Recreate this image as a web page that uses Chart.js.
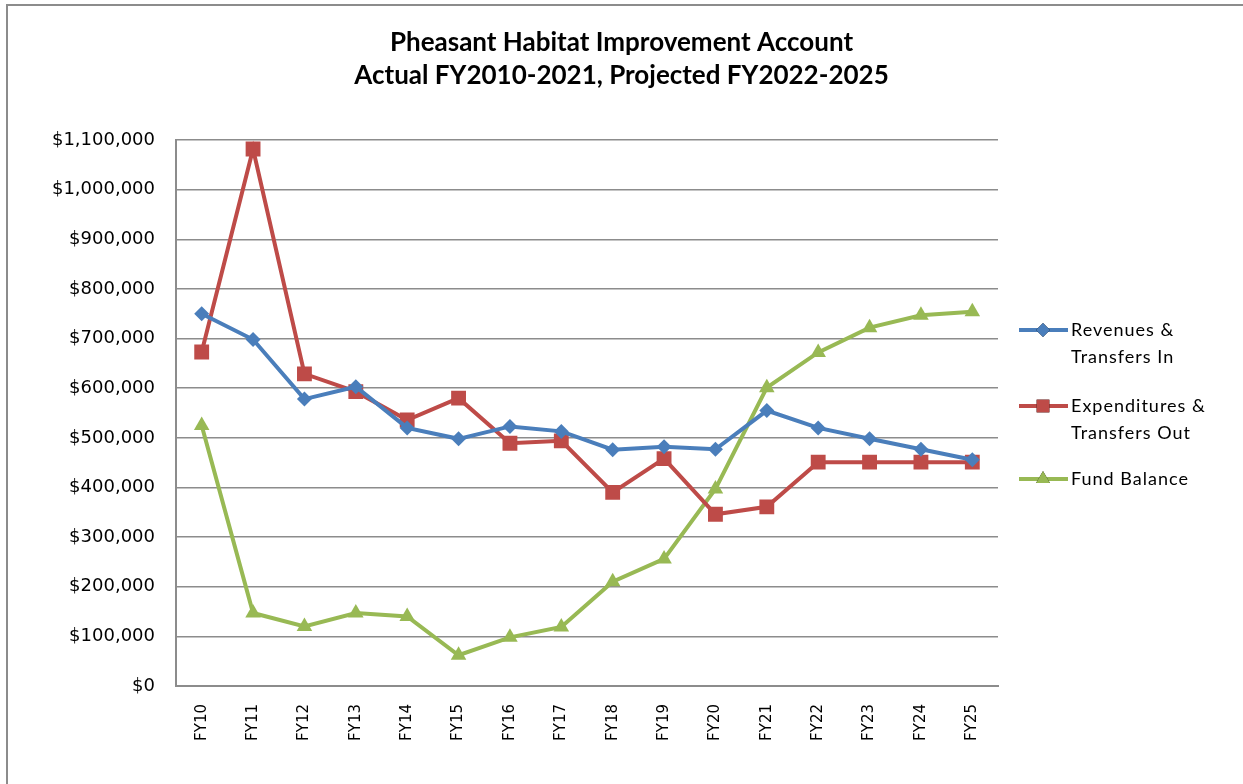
<!DOCTYPE html>
<html>
<head>
<meta charset="utf-8">
<script src="https://cdn.jsdelivr.net/npm/chart.js@4.4.1/dist/chart.umd.min.js"></script>
<style>
  html, body { margin: 0; padding: 0; background: #fff; }
  #wrap { position: relative; width: 1243px; height: 784px; }
</style>
</head>
<body>
<div id="wrap"><canvas id="myChart" width="1243" height="784"></canvas></div>
<script>
const years = ['FY10', 'FY11', 'FY12', 'FY13', 'FY14', 'FY15', 'FY16', 'FY17',
               'FY18', 'FY19', 'FY20', 'FY21', 'FY22', 'FY23', 'FY24', 'FY25'];

const revenues = [750000, 698000, 578000, 603000, 520000, 498000, 523000, 513000,
                  476000, 482000, 477000, 555000, 520000, 498000, 477000, 456000];

const expenditures = [673000, 1082000, 629000, 593000, 536000, 580000, 489000, 494000,
                      390000, 458000, 346000, 361000, 451000, 451000, 451000, 451000];

const fundBalance = [525000, 147000, 120000, 147000, 140000, 62000, 98000, 119000,
                     210000, 256000, 397000, 601000, 672000, 722000, 747000, 754000];

const legendLabels = [
  ['Revenues &', 'Transfers In'],
  ['Expenditures &', 'Transfers Out'],
  ['Fund Balance']
];

const blue = '#4a7ebb';
const red = '#be4b48';
const green = '#98b954';

// frame + legend drawn on the canvas
const extras = {
  id: 'extras',
  beforeDraw(chart) {
    const ctx = chart.ctx;
    ctx.save();
    ctx.strokeStyle = '#8c8c8c';
    ctx.lineWidth = 2;
    ctx.beginPath();
    ctx.moveTo(7, 784);
    ctx.lineTo(7, 5);
    ctx.lineTo(1243, 5);
    ctx.stroke();
    ctx.restore();
  },
  afterDraw(chart) {
    const ctx = chart.ctx;
    const rows = [
      { y: 330, color: blue, style: 'rectRot', r: 7 },
      { y: 406, color: red, style: 'rect', r: 9 },
      { y: 479, color: green, style: 'triangle', r: 8 }
    ];
    ctx.save();
    ctx.font = '18px Lato';
    ctx.letterSpacing = '1px';
    ctx.textBaseline = 'middle';
    rows.forEach((row, i) => {
      ctx.strokeStyle = row.color;
      ctx.lineWidth = 4;
      ctx.beginPath();
      ctx.moveTo(1019, row.y);
      ctx.lineTo(1068, row.y);
      ctx.stroke();
      Chart.helpers.drawPoint(ctx, {
        pointStyle: row.style, radius: row.r, borderWidth: 0
      }, 1043, row.y);
      ctx.fillStyle = row.color;
      ctx.fill();
      ctx.fillStyle = '#000';
      legendLabels[i].forEach((line, j) => {
        ctx.fillText(line, 1071, row.y + j * 27);
      });
    });
    ctx.restore();
  }
};

const chart = new Chart('myChart', {
  type: 'line',
  data: {
    labels: years,
    datasets: [
      {
        label: 'Revenues & Transfers In',
        data: revenues,
        borderColor: blue,
        backgroundColor: blue,
        borderWidth: 4,
        pointStyle: 'rectRot',
        pointRadius: 7.5,
        pointBorderWidth: 0,
        tension: 0
      },
      {
        label: 'Expenditures & Transfers Out',
        data: expenditures,
        borderColor: red,
        backgroundColor: red,
        borderWidth: 4,
        pointStyle: 'rect',
        pointRadius: 10.5,
        pointBorderWidth: 0,
        tension: 0
      },
      {
        label: 'Fund Balance',
        data: fundBalance,
        borderColor: green,
        backgroundColor: green,
        borderWidth: 4,
        pointStyle: 'triangle',
        pointRadius: 9,
        pointBorderWidth: 0,
        tension: 0
      }
    ]
  },
  options: {
    responsive: false,
    animation: false,
    layout: {
      padding: 0
    },
    scales: {
      x: {
        offset: true,
        grid: { display: false, drawTicks: false },
        border: { color: '#8c8c8c', width: 2 },
        ticks: {
          minRotation: 90,
          maxRotation: 90,
          padding: 18,
          color: '#000',
          font: { family: "'DejaVu Sans', sans-serif", size: 15 }
        },
        afterFit(scale) { scale.height = 98; }
      },
      y: {
        min: 0,
        max: 1100000,
        grid: {
          color: '#8c8c8c',
          lineWidth: 1.5,
          drawTicks: false
        },
        border: { color: '#8c8c8c', width: 2 },
        ticks: {
          stepSize: 100000,
          padding: 21,
          color: '#000',
          font: { family: "'DejaVu Sans', sans-serif", size: 18 },
          callback: v => '$' + v.toLocaleString('en-US')
        },
        afterFit(scale) { scale.width = 176; }
      },
      // empty axis that keeps the right side free for the legend
      side: {
        position: 'right',
        display: true,
        min: 0,
        max: 1,
        grid: { display: false, drawTicks: false },
        border: { display: false },
        ticks: { display: false },
        afterFit(scale) { scale.width = 245; }
      }
    },
    plugins: {
      legend: { display: false },
      tooltip: { enabled: false },
      title: {
        display: true,
        text: ['Pheasant Habitat Improvement Account', 'Actual FY2010-2021, Projected FY2022-2025'],
        color: '#000',
        font: { family: 'Lato', size: 26, weight: 'bold', lineHeight: 1.27 },
        padding: { top: 26, bottom: 48 }
      }
    }
  },
  plugins: [extras]
});
</script>
</body>
</html>
